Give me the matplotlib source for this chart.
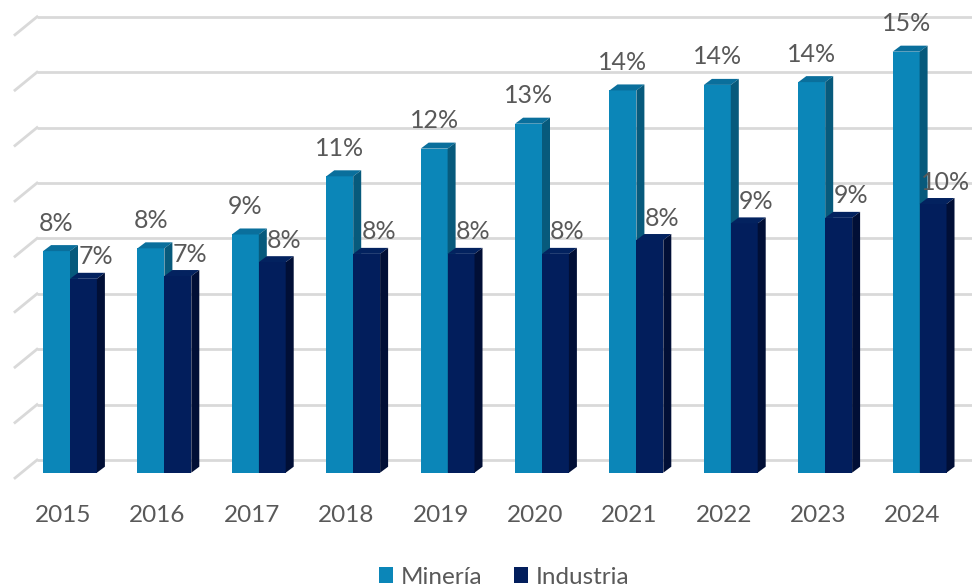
import matplotlib
matplotlib.use("Agg")
import matplotlib.pyplot as plt
from matplotlib.patches import Polygon, Rectangle
from matplotlib.transforms import ScaledTranslation
from matplotlib.patches import Patch

years = ["2015", "2016", "2017", "2018", "2019", "2020", "2021", "2022", "2023", "2024"]
mineria = [8.0, 8.1, 8.6, 10.7, 11.7, 12.6, 13.8, 14.0, 14.1, 15.2]
industria = [7.0, 7.1, 7.6, 7.9, 7.9, 7.9, 8.4, 9.0, 9.2, 9.7]
series_names = ["Minería", "Industria"]

# colours: front, top, side
min_cols = ("#0B86B8", "#0A6F9C", "#075A7C")
ind_cols = ("#021E5C", "#03225F", "#010F36")
text_col = "#595959"
grid_col = "#D9D9D9"

plt.rcParams['font.family'] = ['Lato', 'DejaVu Sans']

W, H, DPI = 972, 588, 100
fig = plt.figure(figsize=(W / DPI, H / DPI), dpi=DPI)
fig.patch.set_facecolor("white")

# axes placement in pixels
ax_left_px, ax_right_px = 15, 972
ax_bottom_px = 472.7
ymax = 16.6
px_per_unit_y = 27.7
ax_top_px = ax_bottom_px - ymax * px_per_unit_y
ax = fig.add_axes([ax_left_px / W, (H - ax_bottom_px) / H,
                   (ax_right_px - ax_left_px) / W, (ax_bottom_px - ax_top_px) / H])
group_px0, group_step = 70, 94.4
ax.set_xlim((ax_left_px - group_px0) / group_step, (ax_right_px - group_px0) / group_step)
ax.set_ylim(0, ymax)
for s in ax.spines.values():
    s.set_visible(False)
ax.set_yticks([])

# pixel -> data unit conversions
ux = 1.0 / group_step
uy = 1.0 / px_per_unit_y

# back wall gridlines
wall_offset = 12.7 * uy
grid_start_x = (37 - group_px0) * ux
slant_dx = 22 * ux
slant_dy = 18 * uy
xr = ax.get_xlim()[1]
for k in range(9):
    yv = 2 * k + wall_offset
    ax.plot([grid_start_x, xr], [yv, yv], color=grid_col, lw=2, zorder=0, clip_on=False,
            solid_capstyle='butt')
    ax.plot([grid_start_x - slant_dx, grid_start_x], [yv - slant_dy, yv], color=grid_col,
            lw=2, zorder=0, clip_on=False)

bar_w = 0.285
depth_dx = 8 * ux
depth_dy = 6 * uy


def bar3d(x0, val, cols, z):
    front, top, side = cols
    x1 = x0 + bar_w
    ax.add_patch(Rectangle((x0, 0), bar_w, val, facecolor=front, edgecolor='none', zorder=z))
    ax.add_patch(Polygon([(x0, val), (x0 + depth_dx, val + depth_dy),
                          (x1 + depth_dx, val + depth_dy), (x1, val)],
                         closed=True, facecolor=top, edgecolor='none', zorder=z))
    ax.add_patch(Polygon([(x1, 0), (x1 + depth_dx, depth_dy),
                          (x1 + depth_dx, val + depth_dy), (x1, val)],
                         closed=True, facecolor=side, edgecolor='none', zorder=z))


for i in range(len(years)):
    bar3d(i - bar_w, mineria[i], min_cols, 2 + 2 * i)
    bar3d(i, industria[i], ind_cols, 3 + 2 * i)
    ax.annotate(f"{mineria[i]:.0f}%", (i - bar_w / 2, mineria[i]), xytext=(0, 28),
                textcoords='offset pixels', ha='center', va='center', fontsize=18,
                color=text_col, zorder=30)
    ax.annotate(f"{industria[i]:.0f}%", (i + bar_w / 2, industria[i]), xytext=(12, 22),
                textcoords='offset pixels', ha='center', va='center', fontsize=18,
                color=text_col, zorder=30)

ax.set_xticks(range(len(years)))
ax.set_xticklabels(years, fontsize=17.5, color=text_col)
ax.tick_params(axis='x', length=0, pad=23)
shift = ScaledTranslation(-7 / DPI, 0, fig.dpi_scale_trans)
for lab in ax.get_xticklabels():
    lab.set_transform(lab.get_transform() + shift)

handles = [Patch(facecolor=min_cols[0], edgecolor='none'),
           Patch(facecolor=ind_cols[0], edgecolor='none')]
fig.legend(handles, series_names, loc='center', bbox_to_anchor=(504 / W, 1 - 577 / H),
           ncol=2, frameon=False, fontsize=17.5, handlelength=0.6, handleheight=0.6,
           handletextpad=0.3, columnspacing=1.3, labelcolor=text_col)

fig.savefig("out.png", dpi=DPI, facecolor="white")
